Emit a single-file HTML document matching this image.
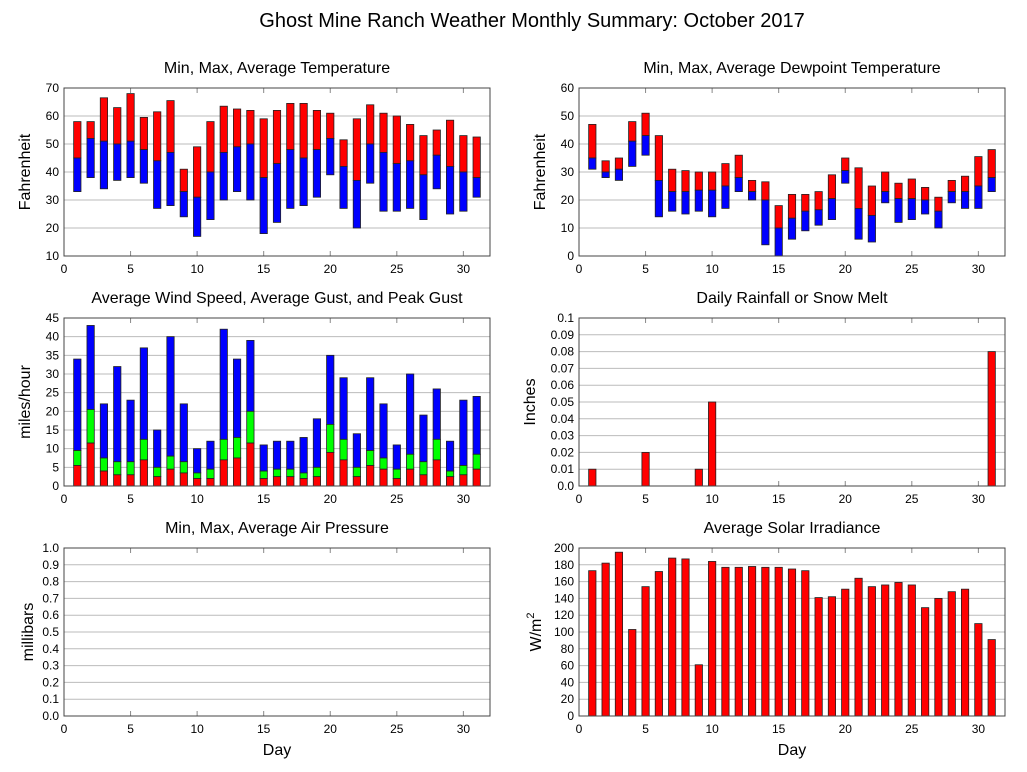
<!DOCTYPE html>
<html><head><meta charset="utf-8"><style>
body{margin:0;background:#fff;}
svg{display:block;font-family:"Liberation Sans",sans-serif;}
</style></head><body>
<svg id="c" width="1027" height="772" xmlns="http://www.w3.org/2000/svg">
<text x="532" y="27" font-size="20" text-anchor="middle">Ghost Mine Ranch Weather Monthly Summary: October 2017</text>
</svg>
<script>
const days=[1,2,3,4,5,6,7,8,9,10,11,12,13,14,15,16,17,18,19,20,21,22,23,24,25,26,27,28,29,30,31];
const tempMax=[58,58,66.5,63,68,59.5,61.5,65.5,41,49,58,63.5,62.5,62,59,62,64.5,64.5,62,61,51.5,59,64,61,60,57,53,55,58.5,53,52.5];
const tempAvg=[45,52,51,50,51,48,44,47,33,31,40,47,49,50,38,43,48,45,48,52,42,37,50,47,43,44,39,46,42,40,38];
const tempMin=[33,38,34,37,38,36,27,28,24,17,23,30,33,30,18,22,27,28,31,39,27,20,36,26,26,27,23,34,25,26,31];
const dewMax=[47,34,35,48,51,43,31,30.5,30,30,33,36,27,26.5,18,22,22,23,29,35,31.5,25,30,26,27.5,24.5,21,27,28.5,35.5,38];
const dewAvg=[35,30,31,41,43,27,23,23,23.5,23.5,25,28,23,20,10,13.5,16,16.5,20.5,30.5,17,14.5,23,20.5,20.5,20,16,23,23,25,28];
const dewMin=[31,28,27,32,36,14,16,15,16,14,17,23,20,4,0,6,9,11,13,26,6,5,19,12,13,15,10,19,17,17,23];
const windAvg=[5.5,11.5,4,3,3,7,2.5,4.5,3.5,2,2,7,7.5,11.5,2,2.5,2.5,2,2.5,9,7,2.5,5.5,4.5,2,4.5,3,7,2.5,3,4.5];
const gustAvg=[9.5,20.5,7.5,6.5,6.5,12.5,5,8,6.5,3.5,4.5,12.5,13,20,4,4.5,4.5,3.5,5,16.5,12.5,5,9.5,7.5,4.5,8.5,6.5,12.5,4,5.5,8.5];
const gustPeak=[34,43,22,32,23,37,15,40,22,10,12,42,34,39,11,12,12,13,18,35,29,14,29,22,11,30,19,26,12,23,24];
const rain=[0.01,0,0,0,0.02,0,0,0,0.01,0.05,0,0,0,0,0,0,0,0,0,0,0,0,0,0,0,0,0,0,0,0,0.08];
const solar=[173,182,195,103,154,172,188,187,61,184,177,177,178,177,177,175,173,141,142,151,164,154,156,159,156,129,140,148,151,110,91];
const xTicks=[0,5,10,15,20,25,30];

const svg=document.getElementById('c');const NS='http://www.w3.org/2000/svg';
function mk(t,a,p){const e=document.createElementNS(NS,t);for(const k in a)e.setAttribute(k,a[k]);(p||svg).appendChild(e);return e;}
function panel(o){
 const g=mk('g',{});
 
 
 const X=v=>o.x0+(v/32)*(o.x1-o.x0);
 const Y=v=>o.y1-(v-o.ymin)/(o.ymax-o.ymin)*(o.y1-o.y0);
 o.yt.forEach(v=>{const y=Y(v);
  const l=mk('line',{x1:o.x0,x2:o.x1,y1:y,y2:y,stroke:'#bbb','stroke-width':1},g);
  
  const t=mk('text',{x:o.x0-5,y:y+4,'font-size':12,'text-anchor':'end'},g);t.textContent=o.fmt?o.fmt(v):v;
  });
 xTicks.forEach(v=>{const x=X(v);
  mk('line',{x1:x,x2:x,y1:o.y1,y2:o.y1-5,stroke:'#888'},g);mk('line',{x1:x,x2:x,y1:o.y0,y2:o.y0+5,stroke:'#888'},g);
  const t=mk('text',{x:x,y:o.y1+17,'font-size':12,'text-anchor':'middle'},g);t.textContent=v;
  });
 const bw=(o.x1-o.x0)/32*0.55;
 o.series.forEach(s=>{days.forEach((d,i)=>{const lo=s.lo?s.lo[i]:o.ymin,hi=s.hi[i];if(hi<=lo)return;
  const r=mk('rect',{x:X(d)-bw/2,y:Y(hi),width:bw,height:Y(lo)-Y(hi),fill:s.c,stroke:'#222','stroke-width':0.8},g);
  });});
 mk('rect',{x:o.x0,y:o.y0,width:o.x1-o.x0,height:o.y1-o.y0,fill:'none',stroke:'#444'},g);
 const t=mk('text',{x:(o.x0+o.x1)/2,y:o.y0-15,'font-size':16,'text-anchor':'middle'},g);t.textContent=o.title;
 
 const yl=mk('text',{x:0,y:0,'font-size':16,'text-anchor':'middle',transform:`translate(${o.x0-(o.yoff||34)},${(o.y0+o.y1)/2}) rotate(-90)`},g);
 yl.innerHTML=o.ylab;
 if(o.xl){const xl=mk('text',{x:(o.x0+o.x1)/2,y:o.y1+39,'font-size':16,'text-anchor':'middle'},g);xl.textContent='Day';
  }
}
const rng=(a,b,s)=>{const r=[];for(let v=a;v<=b+1e-9;v+=s)r.push(+v.toFixed(3));return r;};
const L={x0:64,x1:490},R={x0:579,x1:1005};
panel({...L,y0:88,y1:256,ymin:10,ymax:70,yt:rng(10,70,10),title:'Min, Max, Average Temperature',ylab:'Fahrenheit',name:'temperature-panel',
 series:[{lo:tempAvg,hi:tempMax,c:'#f00'},{lo:tempMin,hi:tempAvg,c:'#00f'}]});
panel({...R,y0:88,y1:256,ymin:0,ymax:60,yt:rng(0,60,10),title:'Min, Max, Average Dewpoint Temperature',ylab:'Fahrenheit',name:'dewpoint-panel',
 series:[{lo:dewAvg,hi:dewMax,c:'#f00'},{lo:dewMin,hi:dewAvg,c:'#00f'}]});
panel({...L,y0:318,y1:486,ymin:0,ymax:45,yt:rng(0,45,5),title:'Average Wind Speed, Average Gust, and Peak Gust',ylab:'miles/hour',name:'wind-panel',
 series:[{lo:gustAvg,hi:gustPeak,c:'#00f'},{lo:windAvg,hi:gustAvg,c:'#0f0'},{hi:windAvg,c:'#f00'}]});
panel({...R,y0:318,y1:486,ymin:0,ymax:0.1,yt:rng(0,0.1,0.01),fmt:v=>v===0?'0.0':v===0.1?'0.1':v.toFixed(2),title:'Daily Rainfall or Snow Melt',ylab:'Inches',name:'rainfall-panel',yoff:44,
 series:[{hi:rain,c:'#f00'}]});
panel({...L,y0:548,y1:716,ymin:0,ymax:1,yt:rng(0,1,0.1),fmt:v=>v.toFixed(1),title:'Min, Max, Average Air Pressure',ylab:'millibars',name:'pressure-panel',xl:1,yoff:31,series:[]});
panel({...R,y0:548,y1:716,ymin:0,ymax:200,yt:rng(0,200,20),title:'Average Solar Irradiance',ylab:'W/m<tspan dy="-7" font-size="11">2</tspan>',name:'solar-panel',xl:1,yoff:38,
 series:[{hi:solar,c:'#f00'}]});
</script>
</body></html>
